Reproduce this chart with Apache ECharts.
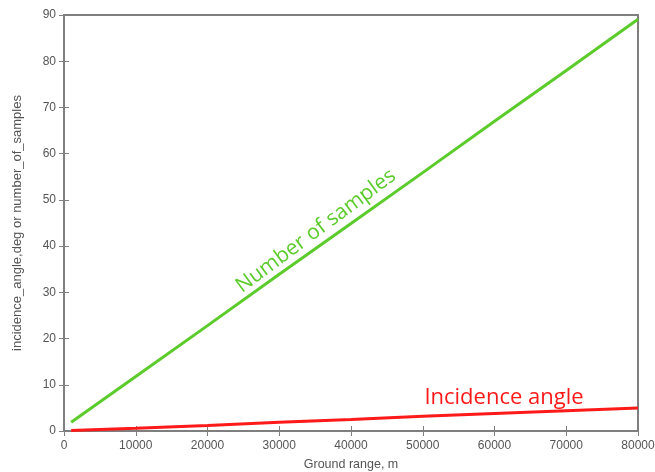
<!DOCTYPE html>
<html lang="en">
<head>
    <meta charset="UTF-8"/>
    <title>echarts</title>
    <script src="https://cdn.jsdelivr.net/npm/echarts@6/dist/echarts.min.js"></script>
</head>
<body style="margin:0">
<div id="main" style="width: 655px;height:472px;"></div>
<script type="text/javascript">
    // ground range, m
    var groundRange = [1000, 10000, 20000, 30000, 40000, 50000, 60000, 70000, 80000];
    var numberOfSamples = [1.9, 11.8, 22.8, 33.9, 44.9, 55.9, 67.0, 78.0, 89.1];
    var incidenceAngle = [0.1, 0.6, 1.2, 1.9, 2.5, 3.2, 3.8, 4.4, 5.0];

    function pairs(xs, ys) {
        var out = [];
        for (var i = 0; i < xs.length; i++) out.push([xs[i], ys[i]]);
        return out;
    }

    var myChart = echarts.init(document.getElementById('main'));

    var axisGrey = '#7f7f7f';
    var labelGrey = '#555';
    var tickStyle = {show: true, inside: true, length: 5, lineStyle: {color: axisGrey, width: 1}};

    var option = {
        backgroundColor: '#fff',
        animation: false,
        grid: {left: 64, right: 17, top: 15, bottom: 41, outerBoundsMode: 'none', containLabel: false,
            show: true, borderColor: axisGrey, borderWidth: 2},
        xAxis: [{
            type: 'value', min: 0, max: 80000, interval: 10000,
            name: 'Ground range, m', nameLocation: 'middle', nameGap: 27,
            nameTextStyle: {color: labelGrey, fontSize: 12.5, fontFamily: 'Liberation Sans'},
            axisLine: {show: false}, axisTick: tickStyle, splitLine: {show: false},
            axisLabel: {color: labelGrey, fontSize: 12, fontFamily: 'Liberation Sans', margin: 9,
                formatter: function (v) { return String(v); }}
        }, {
            type: 'value', position: 'top', min: 0, max: 80000, interval: 10000,
            axisLine: {show: false}, axisTick: tickStyle, splitLine: {show: false},
            axisLabel: {show: false}
        }],
        yAxis: [{
            type: 'value', min: 0, max: 90, interval: 10,
            name: 'incidence_angle,deg or number_of_samples', nameLocation: 'middle', nameGap: 40,
            nameTextStyle: {color: labelGrey, fontSize: 13, fontFamily: 'Liberation Sans'},
            axisLine: {show: false}, axisTick: tickStyle, splitLine: {show: false},
            axisLabel: {color: labelGrey, fontSize: 12, fontFamily: 'Liberation Sans', margin: 8}
        }, {
            type: 'value', position: 'right', min: 0, max: 90, interval: 10,
            axisLine: {show: false}, axisTick: tickStyle, splitLine: {show: false},
            axisLabel: {show: false}
        }],
        series: [{
            name: 'Number of samples', type: 'line', showSymbol: false,
            data: pairs(groundRange, numberOfSamples),
            lineStyle: {color: '#5ccb2c', width: 3}, itemStyle: {color: '#5ccb2c'}
        }, {
            name: 'Incidence angle', type: 'line', showSymbol: false,
            data: pairs(groundRange, incidenceAngle),
            lineStyle: {color: '#ff1a1a', width: 3}, itemStyle: {color: '#ff1a1a'}
        }],
        graphic: [{
            type: 'text', x: 316, y: 231, rotation: 36.5 * Math.PI / 180,
            style: {text: 'Number of samples', fill: '#5ccb2c', font: '21px "Open Sans"', align: 'center', verticalAlign: 'middle'}
        }, {
            type: 'text', x: 504, y: 398,
            style: {text: 'Incidence angle', fill: '#ff1a1a', font: '22px "Open Sans"', align: 'center', verticalAlign: 'middle'}
        }]
    };

    myChart.setOption(option);
</script>
</body>
</html>
